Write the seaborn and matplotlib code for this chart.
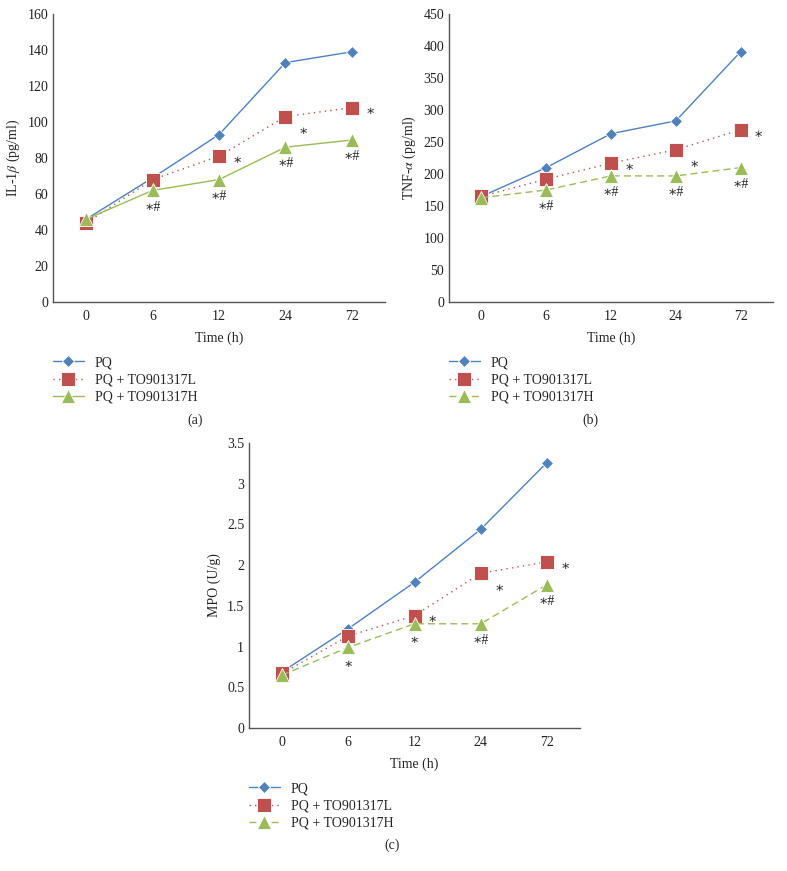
import matplotlib
matplotlib.use("Agg")
import matplotlib.pyplot as plt
from matplotlib.lines import Line2D
import seaborn as sns
import pandas as pd

# time points (categorical axis)
times = ["0", "6", "12", "24", "72"]
groups = ["PQ", "PQ + TO901317L", "PQ + TO901317H"]

# (a) IL-1beta
il1b_pq = [46, 69, 93, 133, 139]
il1b_l = [44, 68, 81, 103, 108]
il1b_h = [46, 62, 68, 86, 90]

# (b) TNF-alpha
tnf_pq = [165, 210, 263, 283, 391]
tnf_l = [165, 192, 217, 238, 269]
tnf_h = [163, 175, 197, 197, 210]

# (c) MPO
mpo_pq = [0.69, 1.22, 1.79, 2.44, 3.26]
mpo_l = [0.67, 1.13, 1.38, 1.90, 2.04]
mpo_h = [0.65, 0.99, 1.28, 1.28, 1.76]

# significance marks
il1b_l_sig = ["", "", "∗", "∗", "∗"]
il1b_h_sig = ["", "∗#", "∗#", "∗#", "∗#"]
tnf_l_sig = ["", "", "∗", "∗", "∗"]
tnf_h_sig = ["", "∗#", "∗#", "∗#", "∗#"]
mpo_l_sig = ["", "", "∗", "∗", "∗"]
mpo_h_sig = ["", "∗", "∗", "∗#", "∗#"]

sns.set_style("white")
plt.rcParams["font.family"] = ["Liberation Serif", "DejaVu Serif"]
plt.rcParams["mathtext.fontset"] = "stix"
plt.rcParams["font.size"] = 10

colors = ["#4F81BD", "#C0504D", "#9BBB59"]
markers = ["D", "s", "^"]
msizes = [6.5, 9.5, 9.5]
axis_color = "#555555"


def draw_panel(ax, pq, low, high, low_sig, high_sig, ylim, yticks, ylabel, green_ls):
    df = pd.DataFrame({
        "time": times * 3,
        "value": pq + low + high,
        "group": [groups[0]] * 5 + [groups[1]] * 5 + [groups[2]] * 5,
    })
    styles = ["-", (0, (1, 3)), green_ls]
    for g, c, m, ms, ls in zip(groups, colors, markers, msizes, styles):
        sns.pointplot(data=df[df["group"] == g], x="time", y="value", order=times,
                      color=c, marker=m, markersize=ms, linestyle=ls, linewidth=1,
                      markeredgewidth=0.6, markeredgecolor="white",
                      errorbar=None, ax=ax)
    # significance annotations
    for i, s in enumerate(low_sig):
        if s:
            dy = -8 if i == 3 else 0
            ax.annotate(s, (i, low[i]), xytext=(13, dy - 3), textcoords="offset points",
                        ha="center", va="center", fontsize=10, color="#222222")
    for i, s in enumerate(high_sig):
        if s:
            ax.annotate(s, (i, high[i]), xytext=(0, -12), textcoords="offset points",
                        ha="center", va="center", fontsize=10, color="#222222")
    ax.set_xlim(-0.5, 4.5)
    ax.set_ylim(*ylim)
    ax.set_yticks(yticks)
    ax.set_yticklabels([f"{t:g}" for t in yticks])
    ax.set_xlabel("Time (h)", fontsize=10, labelpad=6)
    ax.set_ylabel(ylabel, fontsize=10)
    sns.despine(ax=ax)
    for sp in ["left", "bottom"]:
        ax.spines[sp].set_color(axis_color)
        ax.spines[sp].set_linewidth(1)
    ax.tick_params(direction="in", length=4, color=axis_color, labelsize=10,
                   colors="#222222")
    ax.tick_params(axis="x", pad=6)


def add_legend(fig, x, y, green_ls):
    styles = ["-", (0, (1, 3)), green_ls]
    handles = [Line2D([], [], color=c, marker=m, markersize=ms, linestyle=ls, linewidth=1,
                      markeredgewidth=0.6, markeredgecolor="white")
               for c, m, ms, ls in zip(colors, markers, msizes, styles)]
    fig.legend(handles, groups, loc="upper left", bbox_to_anchor=(x, y),
               frameon=False, fontsize=10, handlelength=2.2, handletextpad=0.8,
               labelspacing=0.32, borderaxespad=0, borderpad=0)


W, H = 787, 871
fig = plt.figure(figsize=(W / 100, H / 100), dpi=100)

ax_a = fig.add_axes([53 / W, 1 - 302 / H, 332 / W, 288 / H])
ax_b = fig.add_axes([449 / W, 1 - 302 / H, 324 / W, 288 / H])
ax_c = fig.add_axes([249 / W, 1 - 728 / H, 331 / W, 285 / H])

draw_panel(ax_a, il1b_pq, il1b_l, il1b_h, il1b_l_sig, il1b_h_sig, (0, 160),
           list(range(0, 161, 20)), r"IL-1$\mathit{\beta}$ (pg/ml)", "-")
draw_panel(ax_b, tnf_pq, tnf_l, tnf_h, tnf_l_sig, tnf_h_sig, (0, 450),
           list(range(0, 451, 50)), r"TNF-$\mathit{\alpha}$ (pg/ml)", (0, (5, 3)))
draw_panel(ax_c, mpo_pq, mpo_l, mpo_h, mpo_l_sig, mpo_h_sig, (0, 3.5),
           [0, 0.5, 1, 1.5, 2, 2.5, 3, 3.5], "MPO (U/g)", (0, (5, 3)))

add_legend(fig, 53 / W, 1 - 356 / H, "-")
add_legend(fig, 449 / W, 1 - 356 / H, (0, (5, 3)))
add_legend(fig, 249 / W, 1 - 782 / H, (0, (5, 3)))

fig.text(195 / W, 1 - 420 / H, "(a)", ha="center", va="center", fontsize=10)
fig.text(590 / W, 1 - 420 / H, "(b)", ha="center", va="center", fontsize=10)
fig.text(392 / W, 1 - 845 / H, "(c)", ha="center", va="center", fontsize=10)

fig.savefig("out.png", dpi=100)
